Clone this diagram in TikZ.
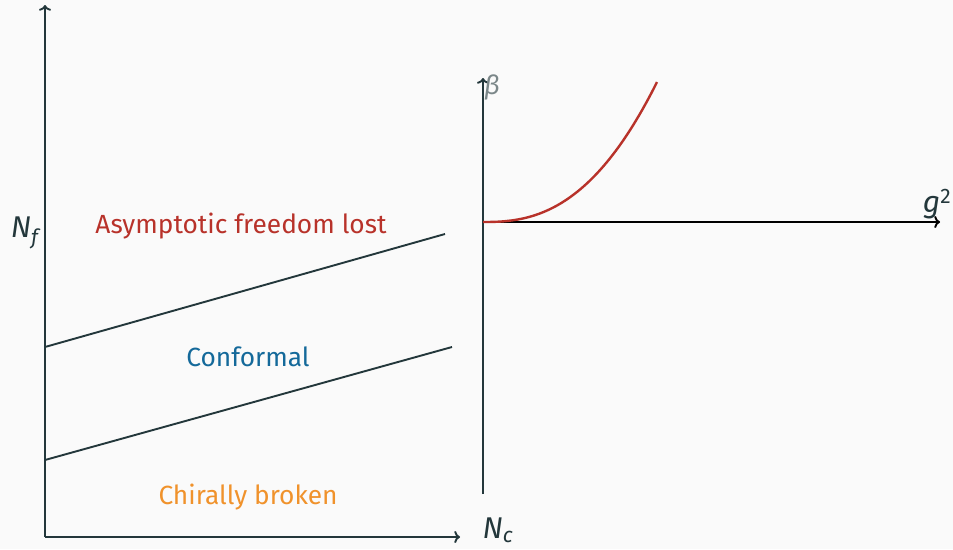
\documentclass[tikz,border=0pt]{standalone}
\usepackage{fontspec}
\setmainfont{Fira Sans}
\usepackage{tikz}
\usetikzlibrary{arrows.meta,positioning,calc}
\definecolor{mDark}{HTML}{23373B}
\definecolor{mBg}{HTML}{FAFAFA}
\definecolor{ctRed}{HTML}{B8322A}
\definecolor{ctBlue}{HTML}{14699A}
\definecolor{ctOrange}{HTML}{F0922B}

\begin{document}
\begin{tikzpicture}[x=1pt,y=-1pt,every node/.style={font=\fontsize{26.3}{31}\selectfont},
  axis/.style={mDark,line width=1.9pt,->},
  bound/.style={mDark,line width=1.9pt},
  sym/.style={mDark,font=\fontsize{30}{36}\selectfont}]
  \fill[mBg] (0,0) rectangle (953,549);
  \useasboundingbox (0,0) rectangle (953,549);
  % phase diagram
  \coordinate (o) at (45,537);
  \coordinate (nf) at (45,5);
  \coordinate (nc) at (460,537);
  \draw[axis] (o) -- (nf);
  \draw[axis] (o) -- (nc);
  \node[sym] (lnf) at (26,233) {\textit{N}\textsubscript{\textit{f}}};
  \node[sym] (lnc) at (498,530) {\textit{N}\textsubscript{\textit{c}}};
  \coordinate (a1) at (45,347);
  \coordinate (a2) at (445,234);
  \coordinate (b1) at (45,460);
  \coordinate (b2) at (452,347);
  \draw[bound] (a1) -- (a2);
  \draw[bound] (b1) -- (b2);
  \node[ctRed] (lost) at (241,226) {Asymptotic freedom lost};
  \node[ctBlue] (conf) at (248,357) {Conformal};
  \node[ctOrange] (chir) at (248,497) {Chirally broken};
  % beta function
  \coordinate (p) at (483,222);
  \coordinate (pb) at (483,494);
  \coordinate (pt) at (483,78);
  \coordinate (pg) at (940,222);
  \draw[axis] (pb) -- (pt);
  \draw[black,line width=1.9pt,->] (p) -- (pg);
  \node[mDark!60,right=0pt of pt,yshift=-9pt,inner sep=1pt] (lb) {\textit{β}};
  \node[sym] (lg) at (937,204) {\textit{g}\textsuperscript{2}};
  \draw[ctRed,line width=2.4pt] plot[domain=0:174,samples=60] ({483+\x},{222-140*(\x/174)^2.5});
\end{tikzpicture}
\end{document}
